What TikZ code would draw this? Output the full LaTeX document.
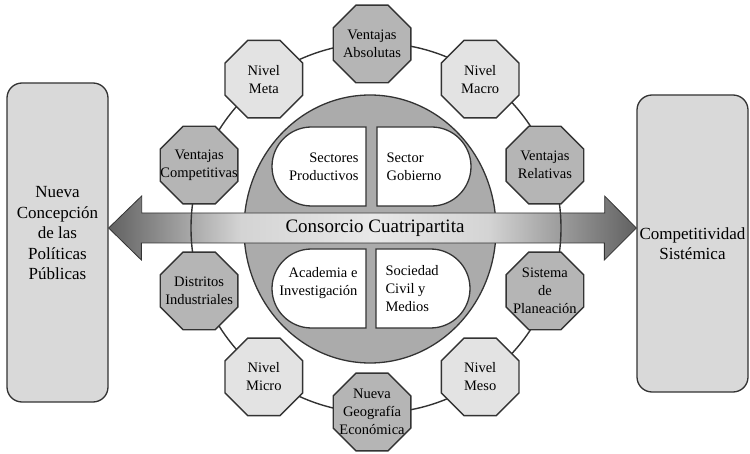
\documentclass[tikz,border=0pt]{standalone}
\usepackage{fontspec}
\setmainfont{Liberation Serif}
\usetikzlibrary{shapes.geometric,shapes.misc}

\definecolor{edge}{gray}{0.2}
\definecolor{darktone}{gray}{0.71}
\definecolor{lighttone}{gray}{0.89}
\definecolor{hubtone}{gray}{0.67}
\definecolor{sidetone}{gray}{0.85}

\pgfdeclarehorizontalshading{bandshade}{100bp}{color(0bp)=(black!62); color(25bp)=(black!62);
  color(37.5bp)=(black!17); color(50bp)=(black!9); color(61bp)=(black!17);
  color(75bp)=(black!62); color(100bp)=(black!62)}

\begin{document}
\begin{tikzpicture}[
  x=1pt,y=1pt,
  sidebox/.style={draw=edge,line width=1.3pt,rounded corners=15pt,fill=sidetone,inner sep=0pt},
  sidetext/.style={align=center,font=\fontsize{17}{20.5}\selectfont},
  dshape/.style={rounded rectangle,draw=edge,line width=1.3pt,fill=white,
    minimum width=94pt,minimum height=79pt,inner sep=0pt},
  innertext/.style={font=\fontsize{14.5}{18}\selectfont,inner sep=0pt},
  octagon/.style={regular polygon,regular polygon sides=8,minimum size=84pt,
    inner sep=0pt,draw=edge,line width=1.4pt},
  octdark/.style={octagon,fill=darktone},
  octpale/.style={octagon,fill=lighttone},
  octext/.style={align=center,font=\fontsize{14.5}{18}\selectfont},
  ringline/.style={draw=edge,line width=1.4pt}
]
  \useasboundingbox (0,0) rectangle (750,453);
  \coordinate (axis) at (372,225);

  % side boxes
  \node[sidebox,minimum width=101pt,minimum height=319pt,
    label={[sidetext,yshift=9pt]center:{Nueva\\Concepción\\de las\\Políticas\\Públicas}}] (policy) at (57.5,210.5) {};
  \node[sidebox,minimum width=111pt,minimum height=297pt,
    label={[sidetext]center:{Competitividad\\Sistémica}}] (systemic) at (692.5,209.5) {};

  % central body
  \node[ellipse,draw=edge,line width=1.3pt,fill=hubtone,minimum width=252pt,
    minimum height=268pt,inner sep=0pt] (consortium) at (370,224) {};
  \node[dshape,rounded rectangle east arc=none] (productive) at (319,286.5) {};
  \node[dshape,rounded rectangle west arc=none] (government) at (424,286.5) {};
  \node[dshape,rounded rectangle east arc=none] (academia) at (319,164.5) {};
  \node[dshape,rounded rectangle west arc=none] (society) at (423,164.5) {};
  \node[innertext,align=right,anchor=east] (productivetext) at ([xshift=-8pt]productive.east) {Sectores\\Productivos};
  \node[innertext,align=left,anchor=west] (governmenttext) at ([xshift=10pt]government.west) {Sector\\Gobierno};
  \node[innertext,align=right,anchor=east] (academiatext) at ([xshift=-9pt,yshift=5pt]academia.east) {Academia e\\Investigación};
  \node[innertext,align=left,anchor=west] (societytext) at ([xshift=10pt]society.west) {Sociedad\\Civil y\\Medios};

  % double arrow
  \coordinate (ltip) at (policy.east |- axis);
  \coordinate (rtip) at (systemic.west |- axis);
  \shadedraw[shading=bandshade,draw=edge,line width=0.8pt]
    (ltip) -- ++(33,32) -- ++(0,-17) -- ++(463,0) -- ++(0,17) -- (rtip)
    -- ++(-32,-32) -- ++(0,17) -- ++(-463,0) -- ++(0,-17) -- cycle;
  \node[font=\fontsize{19}{22}\selectfont] (consorcio) at (375,225) {Consorcio Cuatripartita};

  % ring of octagons
  \draw[ringline] ([xshift=4pt]axis) circle[radius=185];
  \node[octdark,label={[octext]center:{Ventajas\\Absolutas}}] (absolutas) at ([shift={(90:184)}]axis) {};
  \node[octpale,label={[octext]center:{Nivel\\Macro}}] (macro) at ([shift={(54:184)}]axis) {};
  \node[octdark,label={[octext]center:{Ventajas\\Relativas}}] (relativas) at ([shift={(20:184)}]axis) {};
  \node[octdark,label={[octext]center:{Sistema\\de\\Planeación}}] (planeacion) at ([shift={(-20:184)}]axis) {};
  \node[octpale,label={[octext]center:{Nivel\\Meso}}] (meso) at ([shift={(-54:184)}]axis) {};
  \node[octdark,label={[octext]center:{Nueva\\Geografía\\Económica}}] (geografia) at ([shift={(-90:184)}]axis) {};
  \node[octpale,label={[octext]center:{Nivel\\Micro}}] (micro) at ([shift={(-126:184)}]axis) {};
  \node[octdark,label={[octext]center:{Distritos\\Industriales}}] (distritos) at ([shift={(-160:184)}]axis) {};
  \node[octdark,label={[octext]center:{Ventajas\\Competitivas}}] (competitivas) at ([shift={(160:184)}]axis) {};
  \node[octpale,label={[octext]center:{Nivel\\Meta}}] (meta) at ([shift={(126:184)}]axis) {};
\end{tikzpicture}
\end{document}
